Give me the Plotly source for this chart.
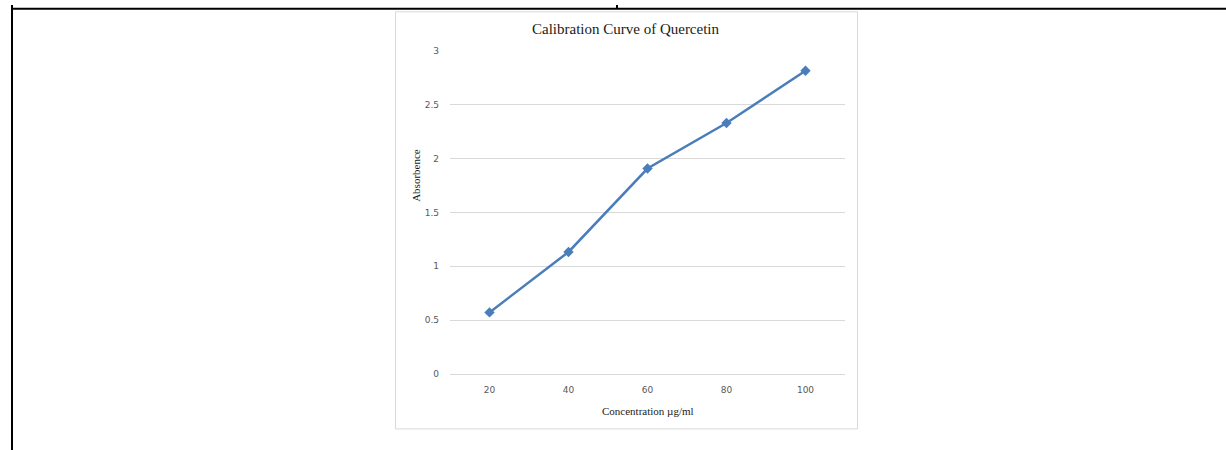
import plotly.graph_objects as go

# Data
concentration = ["20", "40", "60", "80", "100"]
absorbance = [0.571, 1.132, 1.907, 2.33, 2.815]
y_ticks = [0, 0.5, 1, 1.5, 2, 2.5, 3]
y_tick_labels = ["0", "0.5", "1", "1.5", "2", "2.5", "3"]

W, H = 1226, 460

def px(x):
    return x / W

def py(y):
    # map a target screen row to paper coords (compensating for the viewer's vertical fit)
    yf = (y - 5.2) / 0.978
    yf = min(max(yf, 0), H)
    return 1 - yf / H

fig = go.Figure()
fig.add_trace(go.Scatter(
    x=concentration, y=absorbance, mode="lines+markers",
    line=dict(color="#4a7ebb", width=2.5),
    marker=dict(symbol="diamond", size=8, color="#4a7ebb"),
    showlegend=False, hoverinfo="x+y",
))

tick_font = dict(family="DejaVu Sans", size=9, color="#595959")
serif = "Liberation Serif"

fig.update_layout(
    width=W, height=H,
    margin=dict(l=0, r=0, t=0, b=0),
    paper_bgcolor="white", plot_bgcolor="white",
    xaxis=dict(
        type="category", range=[-0.5, 4.5],
        domain=[px(450), px(845)],
        showgrid=False, zeroline=False,
        showline=True, linecolor="#d9d9d9", linewidth=1,
        ticks="", tickfont=tick_font, ticklabelstandoff=7,
        fixedrange=True,
    ),
    yaxis=dict(
        range=[0, 3], domain=[py(374), py(51)],
        tickvals=y_ticks, ticktext=y_tick_labels,
        showgrid=True, gridcolor="#d9d9d9", gridwidth=1,
        zeroline=False, showline=False,
        ticks="", tickfont=tick_font, ticklabelstandoff=10,
        fixedrange=True,
    ),
    shapes=[
        # chart frame
        dict(type="rect", xref="paper", yref="paper",
             x0=px(395.5), x1=px(857.5), y0=py(429), y1=py(12),
             line=dict(color="#d9d9d9", width=1), fillcolor="rgba(0,0,0,0)", layer="below"),
        # document table lines
        dict(type="line", xref="paper", yref="paper",
             x0=px(12), x1=px(12), y0=py(0), y1=py(470),
             line=dict(color="black", width=2)),
        dict(type="line", xref="paper", yref="paper",
             x0=px(11), x1=px(1226), y0=py(9), y1=py(9),
             line=dict(color="black", width=2)),
        dict(type="line", xref="paper", yref="paper",
             x0=px(617), x1=px(617), y0=py(0), y1=py(9),
             line=dict(color="black", width=2)),
    ],
    annotations=[
        dict(text="Calibration Curve of Quercetin", xref="paper", yref="paper",
             x=px(626), y=py(29), showarrow=False, xanchor="center", yanchor="middle",
             font=dict(family=serif, size=15, color="#1a1a1a")),
        dict(text="Concentration µg/ml", xref="paper", yref="paper",
             x=px(648), y=py(411), showarrow=False, xanchor="center", yanchor="middle",
             font=dict(family=serif, size=11, color="#1a1a1a")),
        dict(text="Absorbence", xref="paper", yref="paper", textangle=-90,
             x=px(416), y=py(176), showarrow=False, xanchor="center", yanchor="middle",
             font=dict(family=serif, size=11, color="#1a1a1a")),
    ],
)

post = (
    "var gd=document.getElementById('{plot_id}');"
    "gd.style.position='fixed';gd.style.top='0px';gd.style.left='0px';"
    "document.documentElement.style.margin='0';document.body.style.margin='0';"
    "document.documentElement.style.overflow='hidden';document.body.style.overflow='hidden';"
)

fig.write_html(
    "out.html",
    config={"responsive": False, "displayModeBar": False},
    post_script=post,
)
